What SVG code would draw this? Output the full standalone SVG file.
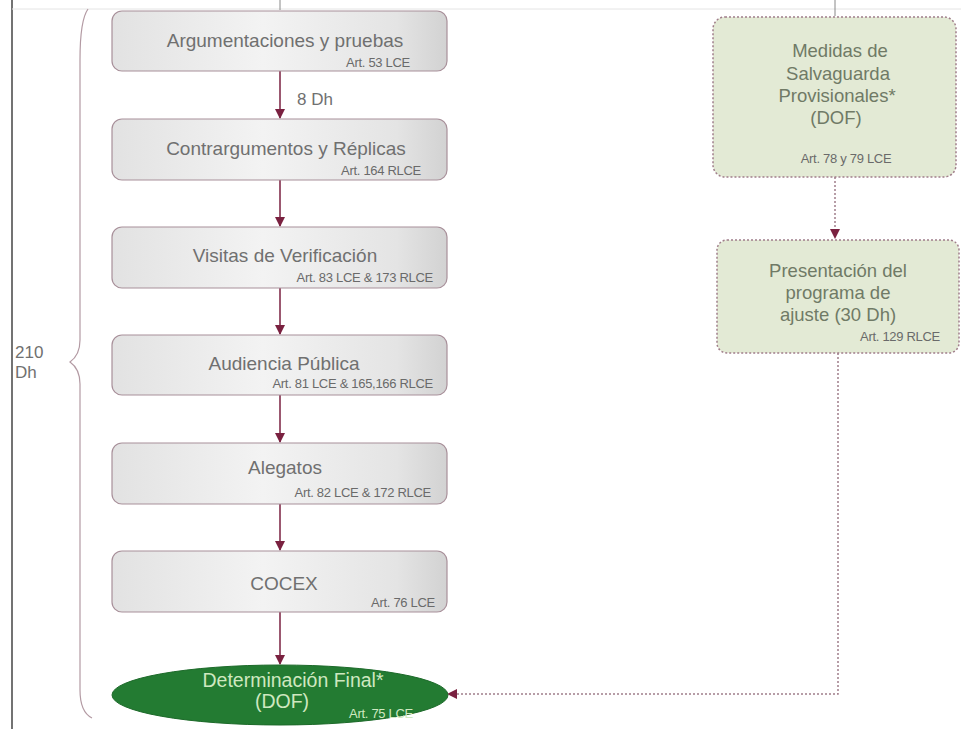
<svg xmlns="http://www.w3.org/2000/svg" width="961" height="729" viewBox="0 0 961 729">
<defs>
<linearGradient id="gbox" x1="0" y1="0" x2="1" y2="0">
<stop offset="0" stop-color="#e2e2e2"/>
<stop offset="0.45" stop-color="#f3f3f3"/>
<stop offset="0.85" stop-color="#e4e4e4"/>
<stop offset="1" stop-color="#d2d2d2"/>
</linearGradient>
<marker id="ah" viewBox="0 0 10 10" refX="9" refY="5" markerWidth="10" markerHeight="10" markerUnits="userSpaceOnUse" orient="auto">
<path d="M0,0 L10,5 L0,10 z" fill="#7a2140"/>
</marker>
</defs>
<style>
.box{fill:url(#gbox);stroke:#a8909a;stroke-width:1.2}
.gbox{fill:#e3ead5;stroke:#a07e8a;stroke-width:1.5;stroke-dasharray:2 2}
.t{font-family:"Liberation Sans",Arial,sans-serif;fill:#707070;font-size:19px}
.s{font-family:"Liberation Sans",Arial,sans-serif;fill:#6a6a6a;font-size:13px;letter-spacing:-0.3px}
.gt{font-family:"Liberation Sans",Arial,sans-serif;fill:#707a66;font-size:18.5px}
.c{stroke:#7a2140;stroke-width:1.5;fill:none}
.d{stroke:#a07e8a;stroke-width:1.5;fill:none;stroke-dasharray:2 2}
.w{font-family:"Liberation Sans",Arial,sans-serif;fill:#cfe8c0;font-size:19.5px}
</style>
<rect width="961" height="729" fill="#fff"/>
<line x1="12" y1="0" x2="12" y2="729" stroke="#444" stroke-width="1.5"/>
<line x1="12" y1="9" x2="961" y2="9" stroke="#e4e4e4" stroke-width="1"/>
<path d="M88,9 Q80,20 80,60 L80,340 Q80,355 70,362 Q80,369 80,384 L80,690 Q80,712 92,718" fill="none" stroke="#b39aa3" stroke-width="1.2"/>
<text class="t" x="15" y="358" style="font-size:17px">210</text>
<text class="t" x="15" y="378" style="font-size:17px">Dh</text>
<g id="connectors">
<line x1="280" y1="0" x2="280" y2="10" stroke="#888" stroke-width="1"/>
<line x1="835" y1="0" x2="835" y2="16" stroke="#888" stroke-width="1"/>
<line class="c" x1="280" y1="71" x2="280" y2="118" marker-end="url(#ah)"/>
<line class="c" x1="280" y1="180" x2="280" y2="226" marker-end="url(#ah)"/>
<line class="c" x1="280" y1="288" x2="280" y2="334" marker-end="url(#ah)"/>
<line class="c" x1="280" y1="395" x2="280" y2="442" marker-end="url(#ah)"/>
<line class="c" x1="280" y1="504" x2="280" y2="550" marker-end="url(#ah)"/>
<line class="c" x1="280" y1="612" x2="280" y2="664" marker-end="url(#ah)"/>
<line class="d" x1="835" y1="177" x2="835" y2="231"/>
<path d="M830,229 L840,229 L835,239 z" fill="#7a2140"/>
<polyline class="d" points="838,353 838,694 457,694"/>
<path d="M457,689 L457,699 L447,694 z" fill="#7a2140"/>
<text class="t" x="297" y="105" style="font-size:17px">8 Dh</text>
</g>
<g id="n1"><rect class="box" x="112" y="11" width="335" height="60" rx="10"/>
<text class="t" x="285" y="47" text-anchor="middle">Argumentaciones y pruebas</text>
<text class="s" x="410" y="67" text-anchor="end">Art. 53 LCE</text></g>
<g id="n2"><rect class="box" x="112" y="119" width="335" height="61" rx="10"/>
<text class="t" x="286" y="155" text-anchor="middle">Contrargumentos y Réplicas</text>
<text class="s" x="421" y="175" text-anchor="end">Art. 164 RLCE</text></g>
<g id="n3"><rect class="box" x="112" y="227" width="335" height="61" rx="10"/>
<text class="t" x="285" y="262" text-anchor="middle">Visitas de Verificación</text>
<text class="s" x="433" y="282" text-anchor="end">Art. 83 LCE  &amp; 173 RLCE</text></g>
<g id="n4"><rect class="box" x="112" y="335" width="335" height="60" rx="10"/>
<text class="t" x="284" y="370" text-anchor="middle">Audiencia Pública</text>
<text class="s" x="433" y="388" text-anchor="end">Art. 81 LCE  &amp; 165,166 RLCE</text></g>
<g id="n5"><rect class="box" x="112" y="443" width="335" height="61" rx="10"/>
<text class="t" x="285" y="474" text-anchor="middle">Alegatos</text>
<text class="s" x="431" y="497" text-anchor="end">Art. 82 LCE  &amp; 172 RLCE</text></g>
<g id="n6"><rect class="box" x="112" y="551" width="335" height="61" rx="10"/>
<text class="t" x="284" y="590" text-anchor="middle">COCEX</text>
<text class="s" x="435" y="607" text-anchor="end">Art. 76 LCE</text></g>
<g id="n7"><ellipse cx="280" cy="695" rx="168" ry="30" fill="#237b32" stroke="#1d6a2a" stroke-width="1"/>
<text class="w" x="293" y="687" text-anchor="middle">Determinación Final*</text>
<text class="w" x="282" y="708" text-anchor="middle">(DOF)</text>
<text class="s" x="381" y="718" text-anchor="middle" style="fill:#cfe8c0">Art. 75 LCE</text></g>
<g id="n8"><rect class="gbox" x="713" y="17" width="243" height="160" rx="12"/>
<text class="gt" x="840" y="57" text-anchor="middle">Medidas de</text>
<text class="gt" x="838" y="80" text-anchor="middle">Salvaguarda</text>
<text class="gt" x="837" y="102" text-anchor="middle">Provisionales*</text>
<text class="gt" x="836" y="124" text-anchor="middle">(DOF)</text>
<text class="s" x="846" y="163" text-anchor="middle">Art. 78 y 79   LCE</text></g>
<g id="n9"><rect class="gbox" x="717" y="240" width="242" height="113" rx="10"/>
<text class="gt" x="838" y="277" text-anchor="middle">Presentación del</text>
<text class="gt" x="838" y="299" text-anchor="middle">programa de</text>
<text class="gt" x="838" y="321" text-anchor="middle">ajuste (30 Dh)</text>
<text class="s" x="940" y="341" text-anchor="end">Art. 129 RLCE</text></g>
</svg>
